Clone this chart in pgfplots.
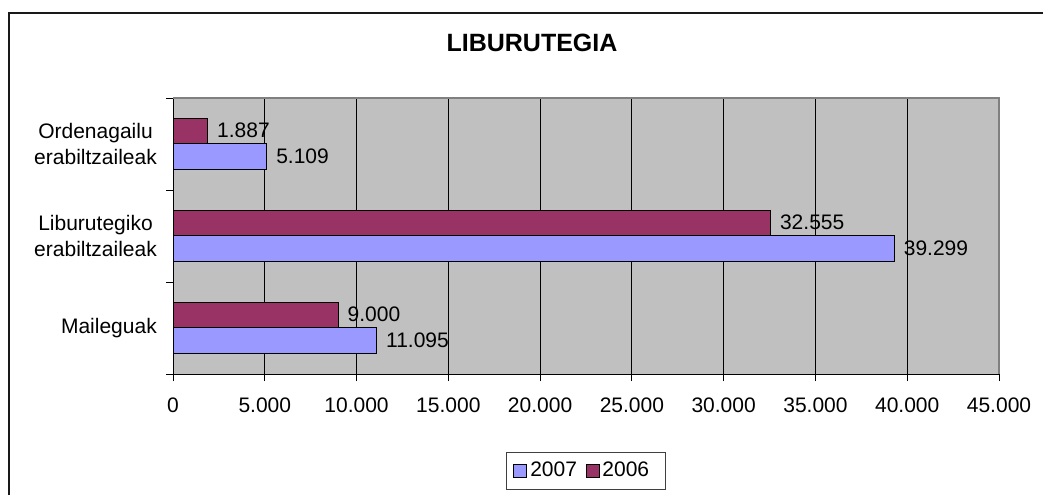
\documentclass[border=0pt]{standalone}
\usepackage{fontspec}
\setmainfont{Liberation Sans}
\usepackage{pgfplots}
\pgfplotsset{compat=1.18}
\definecolor{c2007}{HTML}{9999FF}
\definecolor{c2006}{HTML}{993366}
\definecolor{plotgray}{HTML}{C0C0C0}
\definecolor{bordergray}{HTML}{808080}
\begin{document}
\begin{tikzpicture}[x=1pt,y=1pt]
\fontsize{21}{26}\selectfont
\useasboundingbox (0,0) rectangle (1043,495);
\draw[line width=1.3pt, black!90] (9,0) -- (9,482) -- (1043,482);
\node[anchor=base, font=\fontsize{25}{30}\selectfont\bfseries, inner sep=0pt] at (532,443.3) {LIBURUTEGIA};
\begin{axis}[
  at={(173pt,121pt)}, anchor=south west,
  scale only axis, width=826pt, height=276pt,
  xmin=0, xmax=45000, ymin=-0.5, ymax=2.5,
  axis background/.style={fill=plotgray},
  axis x line*=bottom, axis y line*=left,
  axis line style={black, line width=1pt},
  xtick={0,5000,...,45000},
  scaled x ticks=false,
  /pgf/number format/.cd, 1000 sep={.}, fixed, precision=0, assume math mode=true,
  /pgfplots/.cd,
  xmajorgrids, major grid style={black, line width=0.8pt},
  tick align=outside, major tick length=7pt,
  tick style={black, line width=0.8pt},
  xticklabel style={anchor=north, inner sep=0pt, yshift=-17pt, font=\fontsize{21}{26}\selectfont},
  ytick={0,1,2},
  yticklabels={Maileguak, Liburutegiko\\erabiltzaileak, Ordenagailu\\erabiltzaileak},
  yticklabel style={anchor=east, align=center, inner sep=0pt, xshift=-9pt, font=\fontsize{21}{26}\selectfont},
  ytick style={draw=none},
  extra y ticks={-0.5,0.5,1.5,2.5},
  extra y tick labels={},
  extra y tick style={ytick style={draw=black, line width=0.8pt}},
  xbar, bar width=25.8pt,
  nodes near coords,
  every node near coord/.append style={anchor=west, inner sep=0pt, xshift=9pt, yshift=1pt, font=\fontsize{21}{26}\selectfont, text=black},
  legend style={at={(0.5,-0.3514)}, anchor=center, draw=black!75, line width=0.8pt,
    legend columns=2, font=\fontsize{21}{26}\selectfont, inner xsep=7pt, inner ysep=8pt,
    nodes={inner xsep=1.5pt}},
  legend image code/.code={\draw[#1, line width=0.8pt] (0pt,-6.5pt) rectangle (13pt,6.5pt); \path[draw=none,fill=none] (0pt,0pt) -- (15pt,0pt);},
  clip=false,
]
\addplot[fill=c2007, draw=black, line width=1pt, bar shift=-12.9pt] coordinates {(11095,0) (39299,1) (5109,2)};
\addlegendentry{2007\kern7pt}
\addplot[fill=c2006, draw=black, line width=1pt, bar shift=12.9pt] coordinates {(9000,0) (32555,1) (1887,2)};
\addlegendentry{2006\kern8pt}
\draw[bordergray, line width=1.2pt] (rel axis cs:0,1) -- (rel axis cs:1,1) -- (rel axis cs:1,0);
\end{axis}
\end{tikzpicture}
\end{document}
